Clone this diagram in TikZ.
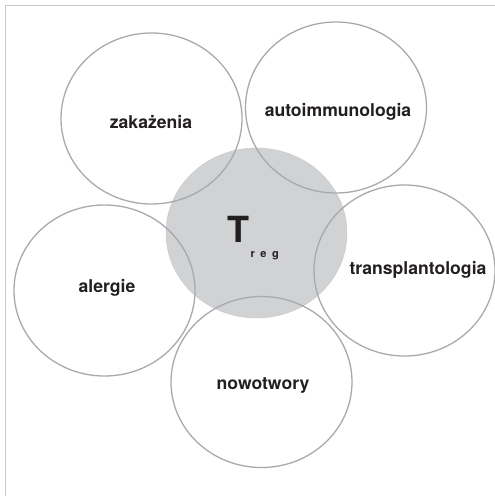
\documentclass[tikz,border=0pt]{standalone}
\usepackage{fontspec}
\setmainfont{TeX Gyre Heros}
\usetikzlibrary{shapes.geometric}
\definecolor{ringgray}{HTML}{A7A9AC}
\definecolor{fillgray}{HTML}{D1D2D4}
\definecolor{framegray}{HTML}{C8C8C8}
\definecolor{txt}{HTML}{231F20}
\tikzset{
  ring/.style={ellipse, draw=ringgray, line width=1.3pt, minimum width=181pt, minimum height=171pt, inner sep=0pt},
  core/.style={ellipse, fill=fillgray, draw=fillgray!95!black, line width=0.4pt, minimum width=181pt, minimum height=170pt, inner sep=0pt},
  lbl/.style={text=txt, font=\fontsize{17.6}{19}\selectfont\bfseries, inner sep=0pt}
}
\begin{document}
\begin{tikzpicture}[x=1pt,y=-1pt]
\useasboundingbox (0,0) rectangle (495,496);
\coordinate (fTL) at (5.5,5.5);
\coordinate (fTR) at (495,5.5);
\coordinate (fBL) at (5.5,496);
\draw[framegray, line width=1pt] (fTR) -- (fTL) -- (fBL);
\node[core] (treg) at (256.5,233) {};
\node[ring] (zak) at (151.5,118.5) {};
\node[ring] (auto) at (336,107.5) {};
\node[ring] (aler) at (104.5,290.5) {};
\node[ring] (trans) at (404.5,270.5) {};
\node[ring] (nowo) at (261.5,382) {};
\node[lbl] (tzak) at (151,122) {zakażenia};
\node[lbl] (tauto) at (338,112) {autoimmunologia};
\node[lbl] (taler) at (107,288) {alergie};
\node[lbl] (ttrans) at (418,270) {transplantologia};
\node[lbl] (tnowo) at (263,385) {nowotwory};
\node[text=txt, font=\fontsize{36}{38}\selectfont\bfseries, inner sep=0pt, anchor=base] (tT) at (238.5,242) {T};
\node[text=txt, font=\fontsize{11}{12}\selectfont\bfseries, inner sep=0pt, anchor=base west] (treg2) at (250.5,257) {r\hspace{5.5pt}e\hspace{5.5pt}g};
\end{tikzpicture}
\end{document}
